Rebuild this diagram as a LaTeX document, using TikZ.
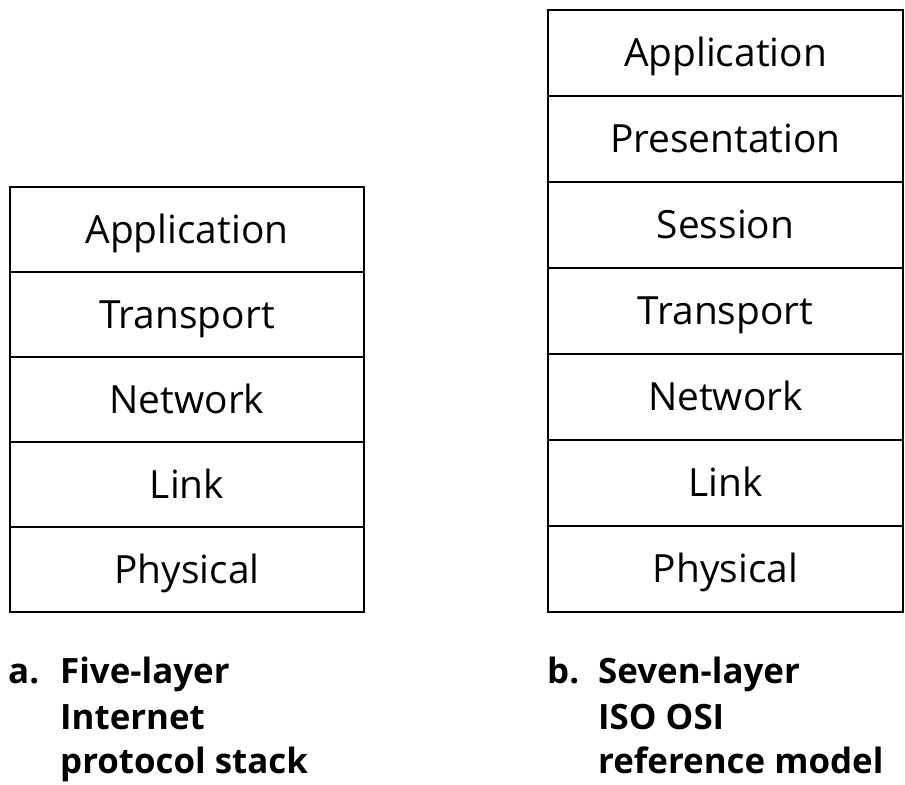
\documentclass[tikz,border=0pt]{standalone}
\usepackage{fontspec}
\setmainfont{Open Sans}
\begin{document}
\begin{tikzpicture}[x=1bp,y=-1bp,
    layer/.style={draw, line width=1.7bp, minimum width=355bp, minimum height=86bp,
      inner sep=0pt, text height=27bp, text depth=0pt, font=\fontsize{39}{46}\selectfont},
    caption/.style={anchor=base west, inner sep=0pt, font=\bfseries\fontsize{35}{45}\selectfont}]
    \useasboundingbox (0,0) rectangle (905,785);

    % Five-layer Internet stack
    \begin{scope}
        \node[layer, minimum width=354bp, minimum height=85bp] (fiveapp) at (187,229.5) {Application};
        \node[layer, minimum width=354bp, minimum height=85bp] (fivetrans) at (187,314.5) {Transport};
        \node[layer, minimum width=354bp, minimum height=85bp] (fivenet) at (187,399.5) {Network};
        \node[layer, minimum width=354bp, minimum height=85bp] (fivelink) at (187,484.5) {Link};
        \node[layer, minimum width=354bp, minimum height=85bp] (fivephys) at (187,569.5) {Physical};
        \node[caption] (capa) at (8,683) {a.};
        \node[caption] (capaone) at (60,683) {Five-layer};
        \node[caption] (capatwo) at (60,729) {Internet};
        \node[caption] (capathree) at (60,773) {protocol stack};
    \end{scope}

    % Seven-layer ISO OSI model
    \begin{scope}
        \node[layer] (sevenapp) at (725.5,53) {Application};
        \node[layer] (sevenpres) at (725.5,139) {Presentation};
        \node[layer] (sevensess) at (725.5,225) {Session};
        \node[layer] (seventrans) at (725.5,311) {Transport};
        \node[layer] (sevennet) at (725.5,397) {Network};
        \node[layer] (sevenlink) at (725.5,483) {Link};
        \node[layer] (sevenphys) at (725.5,569) {Physical};
        \node[caption] (capb) at (547,683) {b.};
        \node[caption] (capbone) at (598,683) {Seven-layer};
        \node[caption] (capbtwo) at (598,729) {ISO OSI};
        \node[caption] (capbthree) at (598,773) {reference model};
    \end{scope}
\end{tikzpicture}
\end{document}
